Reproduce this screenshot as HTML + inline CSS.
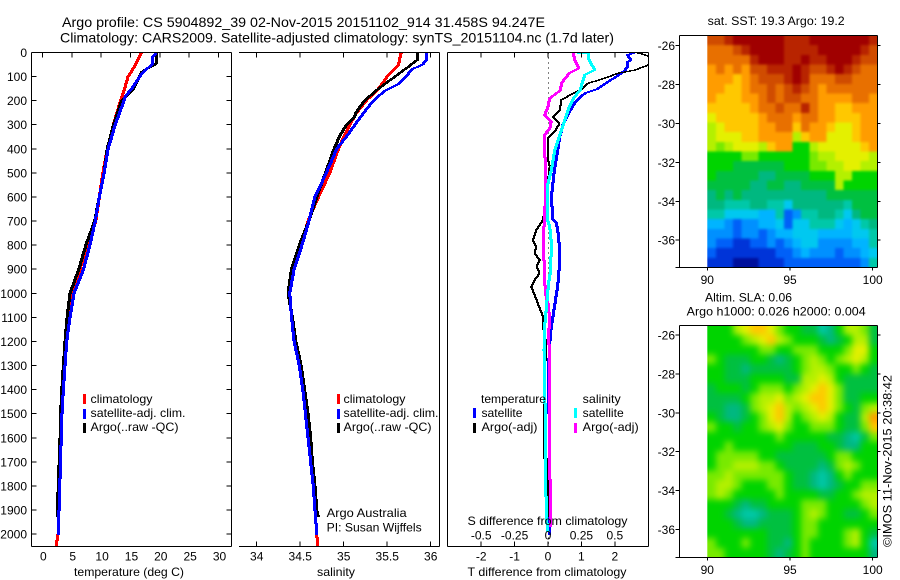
<!DOCTYPE html>
<html lang="en">
<head>
<meta charset="utf-8">
<title>Argo profile 5904892_39</title>
<style>
html,body{margin:0;padding:0;background:#fff}
svg{display:block}
text{font-family:"Liberation Sans",sans-serif;font-size:12px;fill:#000}
.ttl{font-size:14px}
</style>
</head>
<body>
<svg id="fig" xmlns="http://www.w3.org/2000/svg" width="900" height="580" viewBox="0 0 900 580">
<defs>
<clipPath id="clipT"><rect x="32" y="52" width="199" height="494"/></clipPath>
<clipPath id="clipS"><rect x="239" y="52" width="200" height="494"/></clipPath>
<clipPath id="clipD"><rect x="448" y="52" width="200" height="494"/></clipPath>
<clipPath id="clipSst"><rect x="707.3" y="35.5" width="170.2" height="232"/></clipPath>
<clipPath id="clipSla"><rect x="707.3" y="325.5" width="170.2" height="232"/></clipPath>
<filter id="blurSst" filterUnits="userSpaceOnUse" x="670" y="0" width="230" height="300" color-interpolation-filters="sRGB"><feGaussianBlur stdDeviation="1.3"/></filter>
<filter id="blurSla" filterUnits="userSpaceOnUse" x="670" y="290" width="230" height="290" color-interpolation-filters="sRGB"><feGaussianBlur stdDeviation="3.2"/></filter>
</defs>
<rect x="0" y="0" width="900" height="580" fill="#fff"/>
<text class="ttl" x="62" y="27" textLength="483" lengthAdjust="spacingAndGlyphs">Argo profile: CS 5904892_39 02-Nov-2015 20151102_914 31.458S 94.247E</text>
<text class="ttl" x="60" y="42.5" textLength="554" lengthAdjust="spacingAndGlyphs">Climatology: CARS2009. Satellite-adjusted climatology: synTS_20151104.nc (1.7d later)</text>
<g id="charts"></g>

<g>
<rect x="83" y="394" width="3" height="10" fill="#f00"/>
<rect x="83" y="409" width="3" height="10" fill="#00f"/>
<rect x="83" y="423" width="3" height="10" fill="#000"/>
<text x="90.5" y="403" textLength="62" lengthAdjust="spacingAndGlyphs">climatology</text>
<text x="90.5" y="417" textLength="95" lengthAdjust="spacingAndGlyphs">satellite-adj. clim.</text>
<text x="90.5" y="431" textLength="88" lengthAdjust="spacingAndGlyphs">Argo(..raw -QC)</text>
</g>
<g>
<rect x="337" y="394" width="3" height="10" fill="#f00"/>
<rect x="337" y="409" width="3" height="10" fill="#00f"/>
<rect x="337" y="423" width="3" height="10" fill="#000"/>
<text x="343.5" y="403" textLength="62" lengthAdjust="spacingAndGlyphs">climatology</text>
<text x="343.5" y="417" textLength="95" lengthAdjust="spacingAndGlyphs">satellite-adj. clim.</text>
<text x="343.5" y="431" textLength="88" lengthAdjust="spacingAndGlyphs">Argo(..raw -QC)</text>
<text x="326.7" y="517" textLength="80" lengthAdjust="spacingAndGlyphs">Argo Australia</text>
<text x="326.7" y="531.5" textLength="95" lengthAdjust="spacingAndGlyphs">PI: Susan Wijffels</text>
</g>
<g>
<text x="481" y="403" textLength="65" lengthAdjust="spacingAndGlyphs">temperature</text>
<text x="582.7" y="403" textLength="38" lengthAdjust="spacingAndGlyphs">salinity</text>
<rect x="473" y="408" width="3" height="10" fill="#00f"/>
<rect x="473" y="423" width="3" height="10" fill="#000"/>
<rect x="574" y="408" width="3" height="10" fill="#0ff"/>
<rect x="574" y="423" width="3" height="10" fill="#f0f"/>
<text x="481.5" y="417" textLength="41" lengthAdjust="spacingAndGlyphs">satellite</text>
<text x="481.5" y="431" textLength="56" lengthAdjust="spacingAndGlyphs">Argo(-adj)</text>
<text x="582.7" y="417" textLength="41" lengthAdjust="spacingAndGlyphs">satellite</text>
<text x="582.7" y="431" textLength="56" lengthAdjust="spacingAndGlyphs">Argo(-adj)</text>
</g>
<text x="129" y="576" text-anchor="middle" textLength="110" lengthAdjust="spacingAndGlyphs">temperature (deg C)</text>
<text x="336" y="576" text-anchor="middle" textLength="38" lengthAdjust="spacingAndGlyphs">salinity</text>
<text x="547.5" y="525" text-anchor="middle" textLength="160" lengthAdjust="spacingAndGlyphs">S difference from climatology</text>
<text x="547" y="576" text-anchor="middle" textLength="159" lengthAdjust="spacingAndGlyphs">T difference from climatology</text>
<text x="707.7" y="25" textLength="137" lengthAdjust="spacingAndGlyphs">sat. SST: 19.3  Argo: 19.2</text>
<text x="705" y="301.5" textLength="87" lengthAdjust="spacingAndGlyphs">Altim. SLA: 0.06</text>
<text x="686.7" y="315.5" textLength="179" lengthAdjust="spacingAndGlyphs">Argo h1000: 0.026 h2000: 0.004</text>
<text transform="translate(891.5 547) rotate(-90)" textLength="172" lengthAdjust="spacingAndGlyphs">©IMOS 11-Nov-2015 20:38:42</text>
</svg>
<script>
// ---- temperature panel data (depth in dbar, temperature in deg C)
var tempClimDepth = [0,50,100,150,200,300,400,500,600,700,800,900,1000,1100,1200,1300,1400,1500,1600,1700,1800,1900,2000,2052];
var tempClim = [16.85,15.9,14.6,14,13.3,12.1,11.05,10.3,9.7,9.1,7.65,6.4,5.15,4.6,4.1,3.8,3.55,3.3,3.15,3.05,2.9,2.8,2.66,2.3];
var tempArgoDepth = [0,40,50,80,150,200,300,400,500,600,700,800,900,1000,1100,1200,1300,1400,1500,1600,1700,1800,1900,1925];
var tempArgo = [19.5,19.5,19.2,16.9,15.5,13.5,12.1,11.05,10.5,9.7,8.9,7.4,6.2,4.7,4.2,3.85,3.57,3.3,3.1,3,2.85,2.7,2.55,2.5];
var tempSatDepth = [0,20,50,80,100,150,180,200,300,400,500,600,700,800,900,1000,1100,1200,1300,1400,1500,1600,1700,1800,1900,2000];
var tempSat = [19.4,18.8,18.7,17.2,16.6,15.2,14.2,13.9,12.4,11.2,10.5,9.7,9,8.1,7,5.4,4.7,4.14,3.85,3.57,3.34,3.2,3.1,2.95,2.83,2.66];
// ---- salinity panel data
var salClimDepth = [0,50,100,150,200,250,300,350,400,500,600,700,800,900,1000,1100,1200,1300,1400,1500,1600,1700,1800,1900,2000,2052];
var salClim = [35.66,35.63,35.5,35.4,35.26,35.15,35.07,35,34.94,34.84,34.71,34.59,34.51,34.41,34.38,34.4,34.44,34.49,34.53,34.56,34.59,34.62,34.65,34.67,34.69,34.7];
var salArgoDepth = [0,30,60,100,150,200,250,270,300,350,400,500,600,700,800,900,1000,1100,1200,1300,1400,1500,1600,1700,1800,1900,1925];
var salArgo = [35.85,35.85,35.74,35.59,35.4,35.24,35.14,35.12,35.03,34.95,34.89,34.79,34.69,34.6,34.49,34.4,34.36,34.41,34.45,34.51,34.55,34.59,34.62,34.64,34.67,34.69,34.705];
var salSatDepth = [0,1,30,50,70,100,130,160,200,250,300,350,400,500,600,700,800,900,1000,1050,1100,1200,1300,1400,1500,1600,1700,1800,1900,2000];
var salSat = [35.7,35.95,35.95,35.91,35.78,35.72,35.63,35.47,35.34,35.23,35.13,35.03,34.92,34.8,34.67,34.6,34.52,34.43,34.38,34.39,34.4,34.43,34.49,34.53,34.56,34.59,34.62,34.65,34.67,34.69];
// ---- difference panel data
var dTSatDepth = [0,1,10,30,40,60,75,100,130,150,170,200,250,300,350,400,500,600,695,709,765,848,931,986,1069,1138,1208,1300,1500,1800,2000];
var dTSat = [2.35,2.6,2.38,2.48,2.38,2.38,2.3,2.05,1.7,1.5,1.1,0.85,0.62,0.45,0.35,0.3,0.18,0.1,0.15,0.25,0.32,0.35,0.32,0.27,0.18,0.1,0.05,0.02,0.03,0.05,0.05];
var dTArgoDepth = [0,10,17,35,52,73,86,107,128,149,170,197,239,266,294,329,356,446,474,530,640,654,695,737,779,806,834,862,889,917,945,972,1014,1055,1097,1138,1208,1250,1346,1684,1690,1925];
var dTArgo = [2.65,2.9,3.05,3.1,3,2.6,2.1,1.7,1.2,1.05,0.75,0.4,0.35,0.15,0.35,0.2,0,0,0.05,0,-0.07,-0.1,-0.15,-0.35,-0.45,-0.35,-0.4,-0.25,-0.35,-0.25,-0.4,-0.5,-0.38,-0.27,-0.15,-0.15,-0.05,-0.05,-0.13,-0.13,0,0.02];
var dSSatDepth = [0,3,24,73,93,156,190,239,322,405,488,543,695,723,792,903,958,1028,1138,1235,1346,1568,1844,1955,1990];
var dSSat = [0.075,0.3,0.3,0.35,0.275,0.24,0.19,0.15,0.1,0.05,0.025,0,-0.005,0.0125,0.025,0.02,0.005,-0.0075,-0.025,-0.03,-0.025,-0.02,-0.015,-0.0075,0];
var dSArgoDepth = [3,31,66,86,128,156,190,225,260,287,315,343,377,474,557,682,723,792,862,931,1000,1055,1125,1180,1235,1346,1775,1969];
var dSArgo = [0.19,0.2,0.23,0.16,0.1,0.095,0.0125,0,-0.025,0.025,0.0125,-0.025,-0.03,-0.0175,-0.0175,-0.025,-0.03,-0.0375,-0.03,-0.025,-0.02,0.005,0.0125,0,0.0125,0.0075,0.015,0.015];
// ---- axis tick labels
var depthTicks = [0,100,200,300,400,500,600,700,800,900,1000,1100,1200,1300,1400,1500,1600,1700,1800,1900,2000];
var tempTicks = [0,5,10,15,20,25,30];
var salTicks = [34,34.5,35,35.5,36];
var dTTicks = [-2,-1,0,1,2];
var dSTicks = [-0.5,-0.25,0,0.25,0.5];
var latTicks = [-26,-28,-30,-32,-34,-36];
var lonTicks = [90,95,100];
// ---- map cell grids: colour-scale level per half-degree cell, north to south
var sstGrid = [
[16,16,17,18,18,18,18,18,18,17,17,17,18,18,18,18,18,18,18,17],
[15,15,15,16,17,18,18,18,18,17,17,17,17,18,18,18,18,18,17,16],
[15,15,15,15,15,17,18,18,18,17,17,18,17,17,18,18,18,17,16,16],
[14,15,14,15,14,16,16,17,17,17,18,17,16,16,17,18,17,16,15,15],
[14,14,14,13,14,15,16,16,16,17,18,17,15,15,15,16,16,15,15,15],
[14,14,13,13,14,15,15,16,15,16,17,16,15,14,15,15,15,15,15,15],
[14,13,13,13,14,14,15,16,15,16,16,15,15,14,14,14,14,15,15,14],
[13,13,13,13,13,14,15,15,16,15,15,17,15,14,14,13,13,14,14,14],
[12,13,13,13,13,13,14,15,15,15,14,15,15,14,14,13,13,13,14,14],
[11,12,13,13,13,13,14,14,15,15,13,15,14,14,13,12,12,13,14,14],
[11,12,12,12,13,13,14,14,14,14,11,13,14,14,12,12,12,13,14,14],
[11,10,11,12,12,12,11,13,14,14,9,9,11,12,12,12,12,12,13,14],
[9,9,9,9,10,10,9,9,9,9,9,9,10,11,11,12,12,12,12,11],
[9,9,9,8,8,8,8,8,8,9,9,9,10,10,11,11,12,12,11,11],
[9,8,8,8,8,8,7,7,8,8,8,8,9,9,9,11,11,9,9,9],
[8,8,8,8,8,7,7,8,8,7,7,8,8,8,8,11,9,9,9,9],
[7,8,7,8,7,7,7,7,7,7,7,7,7,7,8,8,8,8,8,8],
[7,7,6,6,6,7,7,6,6,5,7,7,7,7,7,7,6,8,8,8],
[6,6,5,5,5,5,4,4,6,2,3,6,6,7,7,6,5,7,8,8],
[4,4,3,2,3,3,4,4,5,2,5,5,6,6,6,5,4,5,6,7],
[3,3,3,2,3,3,2,3,4,4,5,5,5,4,4,4,4,5,5,6],
[3,2,2,1,1,2,2,3,2,3,4,5,5,3,3,3,3,4,4,6],
[2,1,1,1,1,1,1,1,2,2,3,4,3,3,3,2,3,3,4,5],
[1,1,1,0,0,0,1,1,1,2,2,2,2,2,2,2,2,2,3,6]
];
var slaGrid = [
[9,9,9,11,12,13,13,12,10,9,9,8,8,6,7,9,11,11,10,8],
[9,9,9,9,10,11,12,13,11,10,9,9,9,8,7,8,9,11,11,8],
[9,9,9,9,9,9,10,10,9,9,10,10,10,9,9,9,10,12,12,9],
[10,9,8,8,8,9,9,8,7,8,9,10,11,10,9,10,11,12,11,9],
[9,9,8,8,7,8,8,8,8,8,9,10,11,11,10,9,9,10,9,8],
[9,9,8,8,8,9,9,9,9,8,8,11,11,12,11,9,8,8,8,8],
[8,9,9,9,8,9,10,10,10,9,10,11,12,13,12,10,8,8,8,8],
[8,8,8,8,9,10,11,11,12,10,11,12,13,13,12,10,8,8,9,9],
[8,8,7,7,8,10,11,12,13,11,10,11,12,13,12,10,9,8,10,11],
[9,8,7,7,8,9,10,12,13,11,9,10,11,12,11,9,8,8,11,14],
[10,9,9,8,9,9,10,11,12,10,9,9,10,10,10,9,8,8,10,13],
[9,9,9,9,9,9,9,9,10,9,9,9,9,9,8,8,7,6,8,10],
[9,9,10,9,9,9,9,9,9,9,8,8,8,9,9,8,7,7,9,9],
[9,10,10,10,10,10,9,9,8,8,8,8,8,8,9,10,10,9,9,9],
[9,10,10,11,11,11,10,10,9,8,8,8,8,7,8,10,11,10,9,9],
[10,10,11,10,10,10,10,10,10,9,8,8,7,6,7,9,10,9,9,9],
[10,11,11,10,9,9,9,10,10,9,8,8,7,6,7,8,9,9,10,10],
[10,11,10,9,9,9,9,9,10,9,9,9,9,8,8,9,9,10,11,11],
[9,9,9,8,7,8,8,9,9,9,9,10,10,10,9,9,9,9,10,11],
[9,9,8,7,6,6,7,8,8,8,9,10,11,10,9,9,8,8,9,10],
[9,9,9,8,7,7,8,8,8,8,9,10,10,9,9,9,9,9,9,9],
[9,9,9,9,9,9,9,8,8,8,9,10,10,9,9,9,10,11,9,8],
[10,9,9,9,10,9,9,8,8,7,9,10,9,9,9,9,10,11,9,6],
[10,10,9,9,9,9,9,8,7,8,9,10,9,9,9,9,9,9,9,7]
];

var NS = 'http://www.w3.org/2000/svg';
var root = document.getElementById('charts');
function mk(tag, parent, attrs) {
  var el = document.createElementNS(NS, tag);
  for (var k in attrs) el.setAttribute(k, attrs[k]);
  parent.appendChild(el);
  return el;
}
function group(name) {
  var g = mk('g', root, {});
  
  
  return g;
}
// axis functions
function yDepth(d) { return 52.5 + d * 0.2408; }
function xTemp(t) { return 42.4 + t * 5.87; }
function xSal(s) { return 256.7 + (s - 34) * 87; }
function xDT(t) { return 548 + t * 33.4; }
function xDS(s) { return 548 + s * 133.6; }
function xLon(l) { return 707.3 + (l - 90) * 16.54; }
function yLat1(l) { return 45.7 + (-26 - l) * 19.45; }
function yLat2(l) { return 335 + (-26 - l) * 19.45; }

function seg(g, x1, y1, x2, y2, name) {
  var el = mk('line', g, {x1: x1, y1: y1, x2: x2, y2: y2, stroke: '#000', 'stroke-width': 1, 'shape-rendering': 'crispEdges'});
  
  
  return el;
}
function label(g, x, y, txt, anchor, name) {
  var el = mk('text', g, {x: x, y: y, 'text-anchor': anchor});
  el.textContent = txt;
  
  
  return el;
}
// A profile is traced row by row with a horizontal pen of width w, like the
// original raster plot: thick where steep, thin where nearly horizontal.
function profile(g, depths, vals, xf, color, clip, name, w) {
  var px = vals.map(xf), py = depths.map(yDepth), n = px.length;
  function xAt(y) {
    if (y <= py[0]) return px[0];
    for (var i = 1; i < n; i++) {
      if (y <= py[i]) return px[i - 1] + (px[i] - px[i - 1]) * (y - py[i - 1]) / (py[i] - py[i - 1]);
    }
    return px[n - 1];
  }
  var d = '';
  for (var y = Math.floor(py[0]); y < Math.ceil(py[n - 1]); y++) {
    var a = xAt(y), b = xAt(y + 1);
    var l = Math.round(Math.min(a, b) - w / 2);
    var r = Math.max(Math.round(Math.max(a, b) + w / 2), l + w);
    d += 'M' + l + ' ' + y + 'H' + r + 'V' + (y + 1) + 'H' + l + 'Z';
  }
  var el = mk('path', g, {d: d, fill: color, 'clip-path': 'url(#' + clip + ')', 'shape-rendering': 'crispEdges'});
  
  
}

// temperature panel
var g1 = group('temperature-panel');
profile(g1, tempClimDepth, tempClim, xTemp, '#f00', 'clipT', 'line-temperature-climatology', 3);
profile(g1, tempArgoDepth, tempArgo, xTemp, '#000', 'clipT', 'line-temperature-argo', 3);
profile(g1, tempSatDepth, tempSat, xTemp, '#00f', 'clipT', 'line-temperature-satellite', 3);
seg(g1, 31.5, 52.5, 231.5, 52.5, 'axis-top');
seg(g1, 31.5, 546.5, 231.5, 546.5, 'axis-bottom');
seg(g1, 31.5, 52.5, 31.5, 546.5, 'axis-left');
seg(g1, 231.5, 52.5, 231.5, 546.5, 'axis-right');
depthTicks.forEach(function (d) {
  var y = yDepth(d);
  seg(g1, 31.5, y, 36.5, y, 'y-tick-left');
  seg(g1, 226.5, y, 231.5, y, 'y-tick-right');
  label(g1, 27, y + 4.5, String(d), 'end', 'y-tick-label');
});
tempTicks.forEach(function (t) {
  var x = xTemp(t);
  seg(g1, x, 52.5, x, 57.5, 'x-tick');
  label(g1, x + 1, 560.5, String(t), 'middle', 'x-tick-label');
});

// salinity panel
var g2 = group('salinity-panel');
profile(g2, salClimDepth, salClim, xSal, '#f00', 'clipS', 'line-salinity-climatology', 3);
profile(g2, salArgoDepth, salArgo, xSal, '#000', 'clipS', 'line-salinity-argo', 3);
profile(g2, salSatDepth, salSat, xSal, '#00f', 'clipS', 'line-salinity-satellite', 3);
seg(g2, 239, 52.5, 439.5, 52.5, 'axis-top');
seg(g2, 239, 546.5, 439.5, 546.5, 'axis-bottom');
seg(g2, 439.5, 52.5, 439.5, 546.5, 'axis-right');
salTicks.forEach(function (s) {
  var x = xSal(s);
  seg(g2, x, 52.5, x, 57.5, 'x-tick-top');
  seg(g2, x, 541.5, x, 546.5, 'x-tick-bottom');
  label(g2, x, 560.5, String(s), 'middle', 'x-tick-label');
});

// difference panel
var g3 = group('difference-panel');
var zero = mk('line', g3, {x1: 548.5, y1: 52.5, x2: 548.5, y2: 546, stroke: '#000', 'stroke-width': 1, 'stroke-dasharray': '1 4', 'shape-rendering': 'crispEdges'});


profile(g3, dTSatDepth, dTSat, xDT, '#00f', 'clipD', 'line-t-difference-satellite', 3);
profile(g3, dTArgoDepth, dTArgo, xDT, '#000', 'clipD', 'line-t-difference-argo', 2);
profile(g3, dSArgoDepth, dSArgo, xDS, '#f0f', 'clipD', 'line-s-difference-argo', 3);
profile(g3, dSSatDepth, dSSat, xDS, '#0ff', 'clipD', 'line-s-difference-satellite', 3);
seg(g3, 447.5, 52.5, 648.5, 52.5, 'axis-top');
seg(g3, 447.5, 546.5, 648.5, 546.5, 'axis-bottom');
seg(g3, 447.5, 52.5, 447.5, 546.5, 'axis-left');
seg(g3, 648.5, 52.5, 648.5, 546.5, 'axis-right');
dTTicks.forEach(function (t) {
  var x = xDT(t);
  seg(g3, x, 52.5, x, 57.5, 'x-tick-top');
  seg(g3, x, 541.5, x, 546.5, 'x-tick-bottom');
  label(g3, x, 560.5, String(t), 'middle', 't-difference-tick-label');
});
dSTicks.forEach(function (s) {
  label(g3, xDS(s), 539.5, String(s), 'middle', 's-difference-tick-label');
});

// maps: edge cells overhang the clip so the smoothing filter has no fade at the border
var palette = ['#00109c','#0034d8','#0060f8','#0090ff','#00b4ff','#00c8f0','#00c8a8','#00b880','#00c040','#00d400','#78ea00','#b4f000','#e4f000','#ffc800','#ff9c00','#e87000','#d04c00','#b82400','#a00000'];
function map(name, grid, top, bottom, yLat, clipId, filterId) {
  var g = group(name);
  var left = xLon(90), right = 877.5, pad = 14;
  var cw = (right - left) / grid[0].length, ch = (bottom - top) / grid.length;
  var clipG = mk('g', g, {'clip-path': 'url(#' + clipId + ')'});
  var cells = mk('g', clipG, {filter: 'url(#' + filterId + ')'});
  grid.forEach(function (row, r) {
    row.forEach(function (v, c) {
      var x0 = left + c * cw - (c === 0 ? pad : 0);
      var x1 = left + (c + 1) * cw + (c === row.length - 1 ? pad : 0.5);
      var y0 = top + r * ch - (r === 0 ? pad : 0);
      var y1 = top + (r + 1) * ch + (r === grid.length - 1 ? pad : 0.5);
      var cell = mk('rect', cells, {x: x0.toFixed(2), y: y0.toFixed(2), width: (x1 - x0).toFixed(2), height: (y1 - y0).toFixed(2), fill: palette[v], 'shape-rendering': 'crispEdges'});
      
      
    });
  });
  seg(g, 679.5, top, 877.5, top, 'axis-top');
  seg(g, 679.5, bottom, 877.5, bottom, 'axis-bottom');
  seg(g, 679.5, top, 679.5, bottom, 'axis-left');
  seg(g, 877.5, top, 877.5, bottom, 'axis-right');
  seg(g, 675.5, bottom, 679.5, bottom, 'corner-tick');
  latTicks.forEach(function (l) {
    var y = yLat(l);
    seg(g, 679.5, y, 675.5, y, 'lat-tick-left');
    seg(g, 877.5, y, 880.5, y, 'lat-tick-right');
    label(g, 675, y + 4.5, String(l), 'end', 'lat-tick-label');
  });
  lonTicks.forEach(function (l) {
    var x = xLon(l);
    seg(g, x, bottom, x, bottom + 3, 'lon-tick');
    label(g, x, bottom + 16.5, String(l), 'middle', 'lon-tick-label');
  });
}
map('sst-map', sstGrid, 35.5, 267.5, yLat1, 'clipSst', 'blurSst');
map('sla-map', slaGrid, 325.5, 557.5, yLat2, 'clipSla', 'blurSla');
</script>
</body>
</html>
